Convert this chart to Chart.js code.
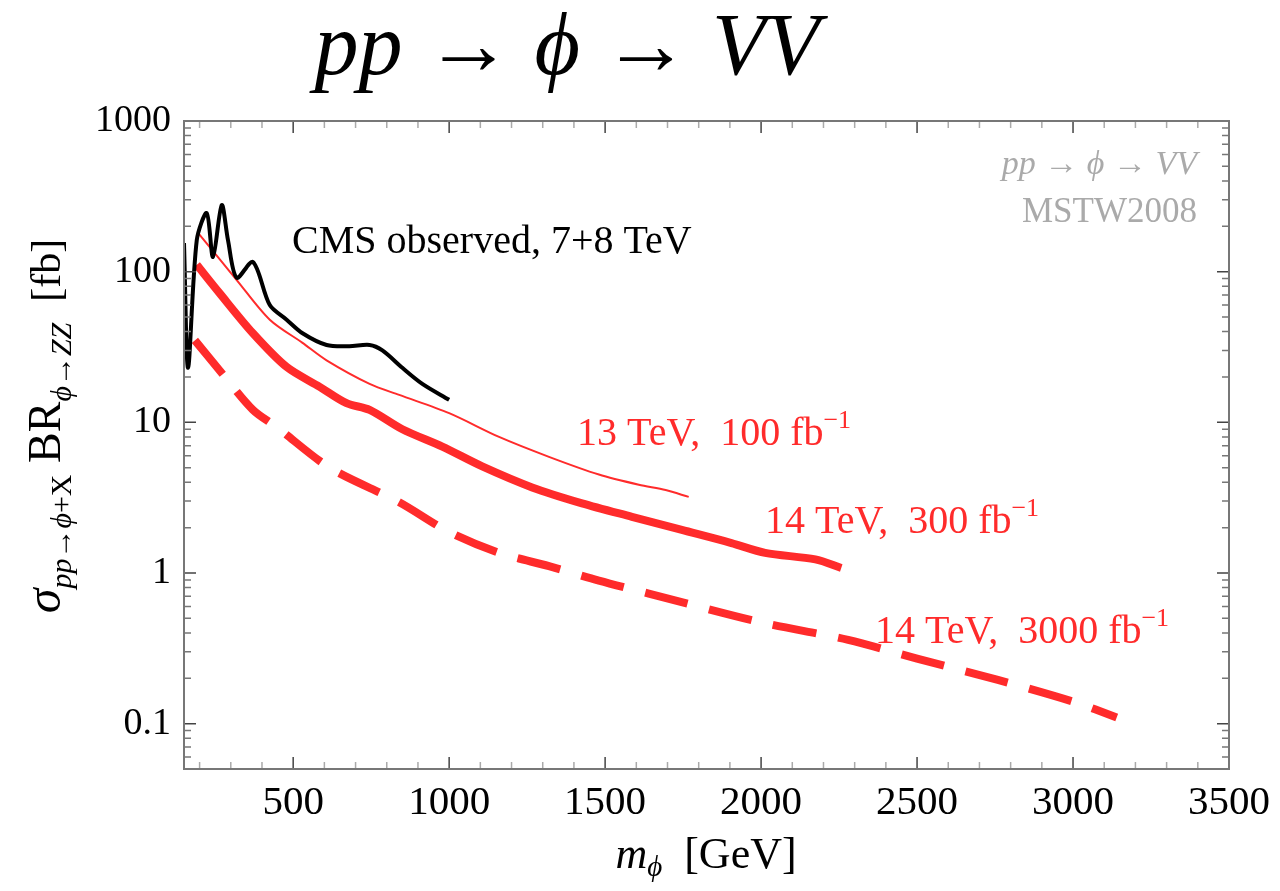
<!DOCTYPE html>
<html>
<head>
<meta charset="utf-8">
<script src="https://cdn.jsdelivr.net/npm/chart.js@4.4.1/dist/chart.umd.min.js"></script>
<style>
  html, body { margin: 0; padding: 0; background: #fff; }
  #wrap { width: 1280px; height: 891px; }
</style>
</head>
<body>
<div id="wrap"><canvas id="chart" width="1280" height="891"></canvas></div>
<script>
/* -----------------------------
   DATOS
----------------------------- */
const cmsMass = [150, 163, 191, 223, 243, 271, 291, 319, 371, 425, 479, 530, 607, 680, 745, 786, 850, 914, 1000];
const cmsXsec = [155, 23, 162, 245, 125, 277, 162, 91, 116, 60, 48, 39, 32.6, 32, 32.6, 30, 23, 18, 14.1];

const lumi100Mass = [195, 319, 425, 530, 607, 745, 840, 1000, 1160, 1320, 1480, 1608, 1694, 1768];
const lumi100Xsec = [181, 88, 48, 33.7, 25.8, 18, 15.2, 11.5, 8.0, 5.9, 4.5, 3.85, 3.55, 3.2];

const lumi300Mass = [191, 264, 371, 479, 585, 671, 745, 850, 978, 1106, 1266, 1426, 1586, 1746, 1905, 2013, 2174, 2257];
const lumi300Xsec = [111, 72, 39, 23.3, 17.2, 13.4, 12.1, 9.0, 6.9, 5.1, 3.7, 2.9, 2.36, 1.93, 1.58, 1.36, 1.23, 1.08];

const lumi3000Mass = [185, 265, 371, 447, 617, 840, 1000, 1160, 1320, 1480, 1640, 2000, 2279, 2500, 2759, 3000, 3140];
const lumi3000Xsec = [35, 22, 12.1, 9.3, 5.0, 2.95, 1.87, 1.36, 1.11, 0.89, 0.73, 0.47, 0.36, 0.27, 0.195, 0.14, 0.11];

const xTicks = [500, 1000, 1500, 2000, 2500, 3000, 3500];
const yTicks = [0.1, 1, 10, 100, 1000];
const yTickLabels = ["0.1", "1", "10", "100", "1000"];

const ROJO = "#ff2b2b";
const SERIF = "'Liberation Serif', 'DejaVu Serif', serif";

function puntos(xs, ys) {
    return xs.map((x, i) => ({ x: x, y: ys[i] }));
}

/* -----------------------------
   TEXTO CON SUBINDICES
----------------------------- */
function anchoRuns(ctx, runs) {
    let w = 0;
    runs.forEach(r => { ctx.font = r.font; w += ctx.measureText(r.t).width; });
    return w;
}

function dibujarRuns(ctx, runs, x, y) {
    let cx = x;
    runs.forEach(r => {
        ctx.font = r.font;
        ctx.fillText(r.t, cx, y + (r.dy || 0));
        cx += ctx.measureText(r.t).width;
    });
    return cx - x;
}

function runsCentrados(ctx, runs, x, y) {
    dibujarRuns(ctx, runs, x - anchoRuns(ctx, runs) / 2, y);
}

const it = (s) => `italic ${s}px ${SERIF}`;
const up = (s) => `${s}px ${SERIF}`;

/* -----------------------------
   PLUGIN: marco, ticks, textos
----------------------------- */
const marcoPlugin = {
    id: "marco",
    afterDraw(chart) {
        const ctx = chart.ctx;
        const a = chart.chartArea;
        const xs = chart.scales.x;
        const ys = chart.scales.y;
        ctx.save();

        // ticks menores y mayores (hacia dentro, en los cuatro lados)
        ctx.lineWidth = 1.5;
        for (let v = 200; v < 3500; v += 100) {
            const px = xs.getPixelForValue(v);
            const mayor = v % 500 === 0;
            const l = mayor ? 12 : 7;
            ctx.strokeStyle = mayor ? "#444" : "#aaa";
            ctx.beginPath();
            ctx.moveTo(px, a.bottom); ctx.lineTo(px, a.bottom - l);
            ctx.moveTo(px, a.top); ctx.lineTo(px, a.top + l);
            ctx.stroke();
        }
        for (let d = -2; d <= 2; d++) {
            for (let m = 1; m <= 9; m++) {
                const v = m * Math.pow(10, d);
                if (v < ys.min || v > ys.max) continue;
                const py = ys.getPixelForValue(v);
                const mayor = m === 1;
                const l = mayor ? 12 : 7;
                ctx.strokeStyle = mayor ? "#444" : "#777";
                ctx.beginPath();
                ctx.moveTo(a.left, py); ctx.lineTo(a.left + l, py);
                ctx.moveTo(a.right, py); ctx.lineTo(a.right - l, py);
                ctx.stroke();
            }
        }

        // marco
        ctx.strokeStyle = "#777";
        ctx.lineWidth = 2;
        ctx.strokeRect(a.left, a.top, a.right - a.left, a.bottom - a.top);

        // titulo
        ctx.fillStyle = "#000";
        ctx.textBaseline = "alphabetic";
        runsCentrados(ctx, [
            { t: "pp", font: it(88) },
            { t: " \u2192 ", font: up(88) },
            { t: "\u03d5", font: it(88) },
            { t: " \u2192 ", font: up(88) },
            { t: "VV", font: it(88) }
        ], 567, 74);

        // etiqueta eje x
        runsCentrados(ctx, [
            { t: "m", font: it(44) },
            { t: "\u03d5", font: it(29), dy: 8 },
            { t: "  [GeV]", font: up(44) }
        ], 706, 868);

        // etiqueta eje y
        ctx.save();
        ctx.translate(60, 426);
        ctx.rotate(-Math.PI / 2);
        runsCentrados(ctx, [
            { t: "\u03c3", font: it(50) },
            { t: "pp", font: it(30), dy: 11 },
            { t: "\u2192", font: up(30), dy: 11 },
            { t: "\u03d5", font: it(30), dy: 11 },
            { t: "+X", font: up(30), dy: 11 },
            { t: " BR", font: up(46) },
            { t: "\u03d5", font: it(30), dy: 11 },
            { t: "\u2192", font: up(30), dy: 11 },
            { t: "ZZ", font: it(30), dy: 11 },
            { t: "  [fb]", font: up(42) }
        ], 0, 0);
        ctx.restore();

        // leyenda gris
        ctx.fillStyle = "#aaa";
        ctx.textAlign = "right";
        ctx.font = it(34);
        ctx.fillText("pp \u2192 \u03d5 \u2192 VV", 1197, 174);
        ctx.font = up(35);
        ctx.fillText("MSTW2008", 1197, 222);
        ctx.textAlign = "left";

        // etiquetas de curvas
        ctx.fillStyle = "#000";
        ctx.font = up(40);
        ctx.fillText("CMS observed, 7+8 TeV", 292, 253);

        ctx.fillStyle = ROJO;
        const sup = (s) => ({ t: s, font: up(26), dy: -17 });
        dibujarRuns(ctx, [{ t: "13 TeV,  100 fb", font: up(40) }, sup("\u2212" + "1")], 577, 445);
        dibujarRuns(ctx, [{ t: "14 TeV,  300 fb", font: up(40) }, sup("\u2212" + "1")], 765, 533);
        dibujarRuns(ctx, [{ t: "14 TeV,  3000 fb", font: up(40) }, sup("\u2212" + "1")], 875, 643);

        ctx.restore();
    }
};

/* -----------------------------
   GRAFICA
----------------------------- */
const ctx = document.getElementById("chart");

new Chart(ctx, {
    type: "scatter",
    data: {
        datasets: [
            {
                label: "CMS observed, 7+8 TeV",
                data: puntos(cmsMass, cmsXsec),
                borderColor: "#000",
                borderWidth: 4,
                tension: 0.3
            },
            {
                label: "13 TeV, 100 fb-1",
                data: puntos(lumi100Mass, lumi100Xsec),
                borderColor: ROJO,
                borderWidth: 2,
                tension: 0.3
            },
            {
                label: "14 TeV, 300 fb-1",
                data: puntos(lumi300Mass, lumi300Xsec),
                borderColor: ROJO,
                borderWidth: 8,
                tension: 0.3
            },
            {
                label: "14 TeV, 3000 fb-1",
                data: puntos(lumi3000Mass, lumi3000Xsec),
                borderColor: ROJO,
                borderWidth: 8,
                borderDash: [44, 22],
                tension: 0.3
            }
        ]
    },
    options: {
        responsive: false,
        animation: false,
        showLine: true,
        elements: {
            point: { radius: 0, hoverRadius: 0 },
            line: { borderCapStyle: "butt", borderJoinStyle: "round" }
        },
        layout: { padding: { top: 121, right: 48, left: 0, bottom: 0 } },
        plugins: {
            legend: { display: false },
            tooltip: { enabled: false },
            title: { display: false }
        },
        scales: {
            x: {
                type: "linear",
                min: 150,
                max: 3500,
                grid: { display: false, drawTicks: false },
                border: { display: false },
                afterBuildTicks: (scale) => {
                    scale.ticks = xTicks.map(v => ({ value: v }));
                },
                afterFit: (scale) => { scale.height = 122; },
                ticks: {
                    color: "#000",
                    padding: 10,
                    maxRotation: 0,
                    font: { family: SERIF, size: 41 },
                    callback: (v) => String(v)
                }
            },
            y: {
                type: "logarithmic",
                min: 0.05,
                max: 1000,
                grid: { display: false, drawTicks: false },
                border: { display: false },
                afterBuildTicks: (scale) => {
                    scale.ticks = yTicks.map(v => ({ value: v }));
                },
                afterFit: (scale) => { scale.width = 184; },
                ticks: {
                    color: "#000",
                    padding: 13,
                    font: { family: SERIF, size: 38 },
                    callback: (v) => {
                        const i = yTicks.indexOf(v);
                        return i >= 0 ? yTickLabels[i] : "";
                    }
                }
            }
        }
    },
    plugins: [marcoPlugin]
});
</script>
</body>
</html>
